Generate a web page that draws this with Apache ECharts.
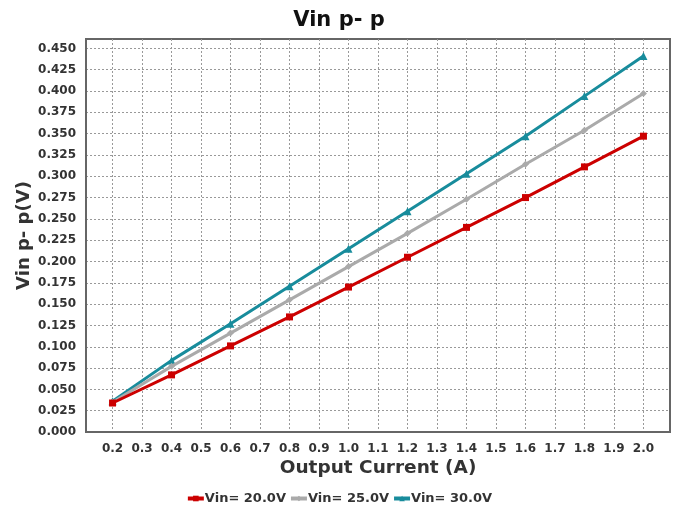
<!DOCTYPE html>
<html><head><meta charset="utf-8">
<script src="https://cdn.jsdelivr.net/npm/echarts@6/dist/echarts.min.js"></script>
<style>html,body{margin:0;padding:0;background:#fff}#c{width:678px;height:515px}</style>
</head><body><div id="c"></div>
<script>
const currents = [0.2, 0.4, 0.6, 0.8, 1.0, 1.2, 1.4, 1.6, 1.8, 2.0];
const vin20 = [0.034, 0.067, 0.101, 0.135, 0.170, 0.205, 0.240, 0.275, 0.311, 0.347];
const vin25 = [0.035, 0.077, 0.116, 0.155, 0.194, 0.233, 0.273, 0.314, 0.354, 0.397];
const vin30 = [0.036, 0.084, 0.127, 0.171, 0.215, 0.259, 0.303, 0.347, 0.394, 0.441];
const xTicks = [0.2,0.3,0.4,0.5,0.6,0.7,0.8,0.9,1.0,1.1,1.2,1.3,1.4,1.5,1.6,1.7,1.8,1.9,2.0];
const yTicks = [0,0.025,0.05,0.075,0.1,0.125,0.15,0.175,0.2,0.225,0.25,0.275,0.3,0.325,0.35,0.375,0.4,0.425,0.45];
const seriesNames = ['Vin= 20.0V', 'Vin= 25.0V', 'Vin= 30.0V'];
const colors = ['#CC0000', '#AAAAAA', '#188C9C'];
const symbols = ['rect', 'diamond', 'triangle'];
const seriesData = [vin20, vin25, vin30];

const font = 'DejaVu Sans, sans-serif';
const chart = echarts.init(document.getElementById('c'), null, {renderer: 'canvas'});
chart.setOption({
  animation: false,
  title: {text: 'Vin p- p', left: 'center', top: 5,
    textStyle: {fontFamily: font, fontSize: 21, fontWeight: 'bold', color: '#111'}},
  grid: {left: 86, right: 8, top: 39, bottom: 83, show: true, borderColor: '#666', borderWidth: 2},
  legend: {bottom: 5, left: 'center', itemGap: 3, itemWidth: 16, itemHeight: 7,
    data: seriesNames,
    lineStyle: {width: 4},
    textStyle: {fontFamily: font, fontSize: 13, fontWeight: 'bold', color: '#333', padding:[0,0,0,-4]}},
  xAxis: {type: 'value', min: 0.11, max: 2.09,
    name: 'Output Current (A)', nameLocation: 'middle', nameGap: 27, nameMoveOverlap: false,
    nameTextStyle: {fontFamily: font, fontSize: 18.5, fontWeight: 'bold', color: '#333'},
    axisLine: {show: true, lineStyle: {color: '#666', width: 2}},
    axisTick: {show: false, customValues: xTicks},
    axisLabel: {customValues: xTicks, margin: 11, fontFamily: font, fontSize: 12, fontWeight: 'bold', color: '#333',
      formatter: v => v.toFixed(1)},
    splitLine: {show: true, lineStyle: {color: '#999', type: [2,2], width: 1}}},
  yAxis: {type: 'value', min: 0, max: 0.461,
    name: 'Vin p- p(V)', nameLocation: 'middle', nameGap: 53, nameRotate: 90, nameMoveOverlap: false,
    nameTextStyle: {fontFamily: font, fontSize: 18, fontWeight: 'bold', color: '#333'},
    axisLine: {show: true, lineStyle: {color: '#666', width: 2}},
    axisTick: {show: false, customValues: yTicks},
    axisLabel: {customValues: yTicks, margin: 10, fontFamily: font, fontSize: 12, fontWeight: 'bold', color: '#333',
      formatter: v => v.toFixed(3)},
    splitLine: {show: true, lineStyle: {color: '#999', type: [2,2], width: 1}}},
  series: seriesData.map((d,i)=>({
    name: seriesNames[i], type: 'line',
    data: currents.map((c,j)=>[c, d[j]]),
    symbol: symbols[i], symbolSize: i===2 ? 8 : 7,
    lineStyle: {color: colors[i], width: 3},
    itemStyle: {color: colors[i]},
    z: 3 - i
  }))
});
</script></body></html>
